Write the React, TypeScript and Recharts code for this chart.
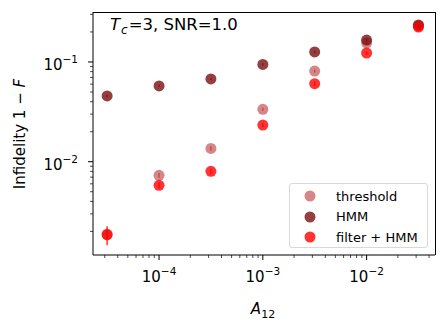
import React from "react";
import { ScatterChart, Scatter, XAxis, YAxis, ErrorBar } from "recharts";

// A12 values (x) and infidelity values per method
const a12 = [3.16e-5, 1e-4, 3.16e-4, 1e-3, 3.16e-3, 1e-2, 3.16e-2];
const thresholdVals = [1.88e-3, 7.3e-3, 0.0136, 0.0335, 0.081, 0.155, 0.23];
const thresholdErr = [0.0002, 0.0004, 0.0007, 0.0012, 0.003, 0.006, 0.008];
const hmmVals = [0.0456, 0.0575, 0.0676, 0.0944, 0.126, 0.166, 0.235];
const hmmErr = [0.0012, 0.0015, 0.0018, 0.0025, 0.004, 0.006, 0.008];
const filterVals = [1.85e-3, 5.8e-3, 8.0e-3, 0.0233, 0.0605, 0.123, 0.224];
const filterErr = [0.0004, 0.0004, 0.0005, 0.0012, 0.003, 0.005, 0.008];

const xMajor = [1e-4, 1e-3, 1e-2];
const xDecades = [1e-5, 1e-4, 1e-3, 1e-2];
const yMajor = [1e-2, 1e-1];
const yDecades = [1e-3, 1e-2, 1e-1];
const minorMult = [2, 3, 4, 5, 6, 7, 8, 9];

const xDomain = [2.31e-5, 0.0456];
const yDomain = [1.16e-3, 0.317];

const series = [
  { name: "threshold", color: "#b22222", opacity: 0.55, vals: thresholdVals, err: thresholdErr },
  { name: "HMM", color: "#7a1010", opacity: 0.8, vals: hmmVals, err: hmmErr },
  { name: "filter + HMM", color: "#ff0000", opacity: 0.8, vals: filterVals, err: filterErr },
];

const FONT = "DejaVu Sans, sans-serif";

const ticksFrom = (decades: number[], domain: number[]) => {
  const out: number[] = [];
  decades.forEach((d) => {
    out.push(d);
    minorMult.forEach((m) => out.push(d * m));
  });
  return out.filter((v) => v >= domain[0] && v <= domain[1]);
};

const expOf = (v: number) => Math.round(Math.log10(v));

const isMajor = (v: number, majors: number[]) =>
  majors.some((m) => Math.abs(v / m - 1) < 1e-6);

const XTick = (props: any) => {
  const { x, y, payload } = props;
  const major = isMajor(payload.value, xMajor);
  return (
    <g>
      <line x1={x} x2={x} y1={y} y2={y + (major ? 5 : 3)} stroke="#000" strokeWidth={major ? 1 : 0.7} />
      {major && (
        <text x={x} y={y + 27} textAnchor="middle" fontSize={15} fontFamily={FONT} fill="#000">
          10
          <tspan dy={-7} fontSize={10.5}>
            {"\u2212" + Math.abs(expOf(payload.value))}
          </tspan>
        </text>
      )}
    </g>
  );
};

const YTick = (props: any) => {
  const { x, y, payload } = props;
  const major = isMajor(payload.value, yMajor);
  return (
    <g>
      <line x1={x} x2={x - (major ? 5 : 3)} y1={y} y2={y} stroke="#000" strokeWidth={major ? 1 : 0.7} />
      {major && (
        <text x={x - 15} y={y + 8} textAnchor="end" fontSize={15} fontFamily={FONT} fill="#000">
          10
          <tspan dy={-7} fontSize={10.5}>
            {"\u2212" + Math.abs(expOf(payload.value))}
          </tspan>
        </text>
      )}
    </g>
  );
};

const Dot = (color: string, opacity: number) => (props: any) => {
  const { cx, cy } = props;
  if (cx == null || cy == null) return null;
  return <circle cx={cx} cy={cy} r={5.5} fill={color} fillOpacity={opacity} />;
};

export default function App() {
  const left = 93;
  const top = 12;
  const right = 435;
  const bottom = 255;
  const yAxisW = 80;
  const xAxisH = 50;

  return (
    <div style={{ position: "absolute", left: 0, top: 0, width: 448, height: 324, background: "#fff", fontFamily: FONT }}>
      <ScatterChart
        width={448}
        height={324}
        margin={{ top, right: 448 - right, bottom: 324 - bottom - xAxisH, left: left - yAxisW }}
      >
        <XAxis
          dataKey="x"
          type="number"
          scale="log"
          domain={xDomain}
          allowDataOverflow
          ticks={ticksFrom(xDecades, xDomain)}
          tick={<XTick />}
          tickLine={false}
          tickSize={0}
          tickMargin={0}
          height={xAxisH}
          axisLine={{ stroke: "#000" }}
          interval={0}
        />
        <YAxis
          dataKey="y"
          type="number"
          scale="log"
          domain={yDomain}
          allowDataOverflow
          ticks={ticksFrom(yDecades, yDomain)}
          tick={<YTick />}
          tickLine={false}
          tickSize={0}
          tickMargin={0}
          width={yAxisW}
          axisLine={{ stroke: "#000" }}
          interval={0}
        />
        {series.map((s) => (
          <Scatter
            key={s.name}
            name={s.name}
            data={a12.map((x, i) => ({ x, y: s.vals[i], err: s.err[i] }))}
            shape={Dot(s.color, s.opacity)}
            isAnimationActive={false}
          >
            <ErrorBar dataKey="err" direction="y" width={0} stroke={s.color} strokeOpacity={s.opacity} strokeWidth={1.5} />
          </Scatter>
        ))}
      </ScatterChart>

      {/* frame */}
      <div
        style={{
          position: "absolute",
          left: left,
          top: top,
          width: right - left + 1,
          height: bottom - top,
          borderTop: "1px solid #000",
          borderRight: "1px solid #000",
          boxSizing: "border-box",
          pointerEvents: "none",
        }}
      />

      {/* annotation */}
      <div style={{ position: "absolute", left: 110, top: 15, fontSize: 16.5, whiteSpace: "nowrap" }}>
        <i>T</i>
        <sub style={{ fontSize: 12, marginLeft: 1, marginRight: 1 }}><i>c</i></sub>=3, SNR=1.0
      </div>

      {/* y label */}
      <div
        style={{
          position: "absolute",
          left: 20,
          top: 134,
          transform: "translate(-50%, -50%) rotate(-90deg)",
          fontSize: 15,
          whiteSpace: "nowrap",
        }}
      >
        Infidelity 1 − <i>F</i>
      </div>

      {/* x label */}
      <div
        style={{
          position: "absolute",
          left: 263,
          top: 300,
          transform: "translateX(-50%)",
          fontSize: 15,
          whiteSpace: "nowrap",
        }}
      >
        <i>A</i>
        <sub style={{ fontSize: 11 }}>12</sub>
      </div>

      {/* legend */}
      <div
        style={{
          position: "absolute",
          left: 289,
          top: 183,
          width: 139,
          height: 65,
          border: "1px solid #d9d9d9",
          borderRadius: 3,
          background: "rgba(255,255,255,0.8)",
          boxSizing: "border-box",
          paddingTop: 2,
        }}
      >
        {series.map((s) => (
          <div key={s.name} style={{ display: "flex", alignItems: "center", height: 20.5 }}>
            <svg width={40} height={20} style={{ flex: "none" }}>
              <circle cx={20} cy={10} r={5.5} fill={s.color} fillOpacity={s.opacity} />
            </svg>
            <span style={{ fontSize: 13, marginLeft: 6 }}>{s.name}</span>
          </div>
        ))}
      </div>
    </div>
  );
}
